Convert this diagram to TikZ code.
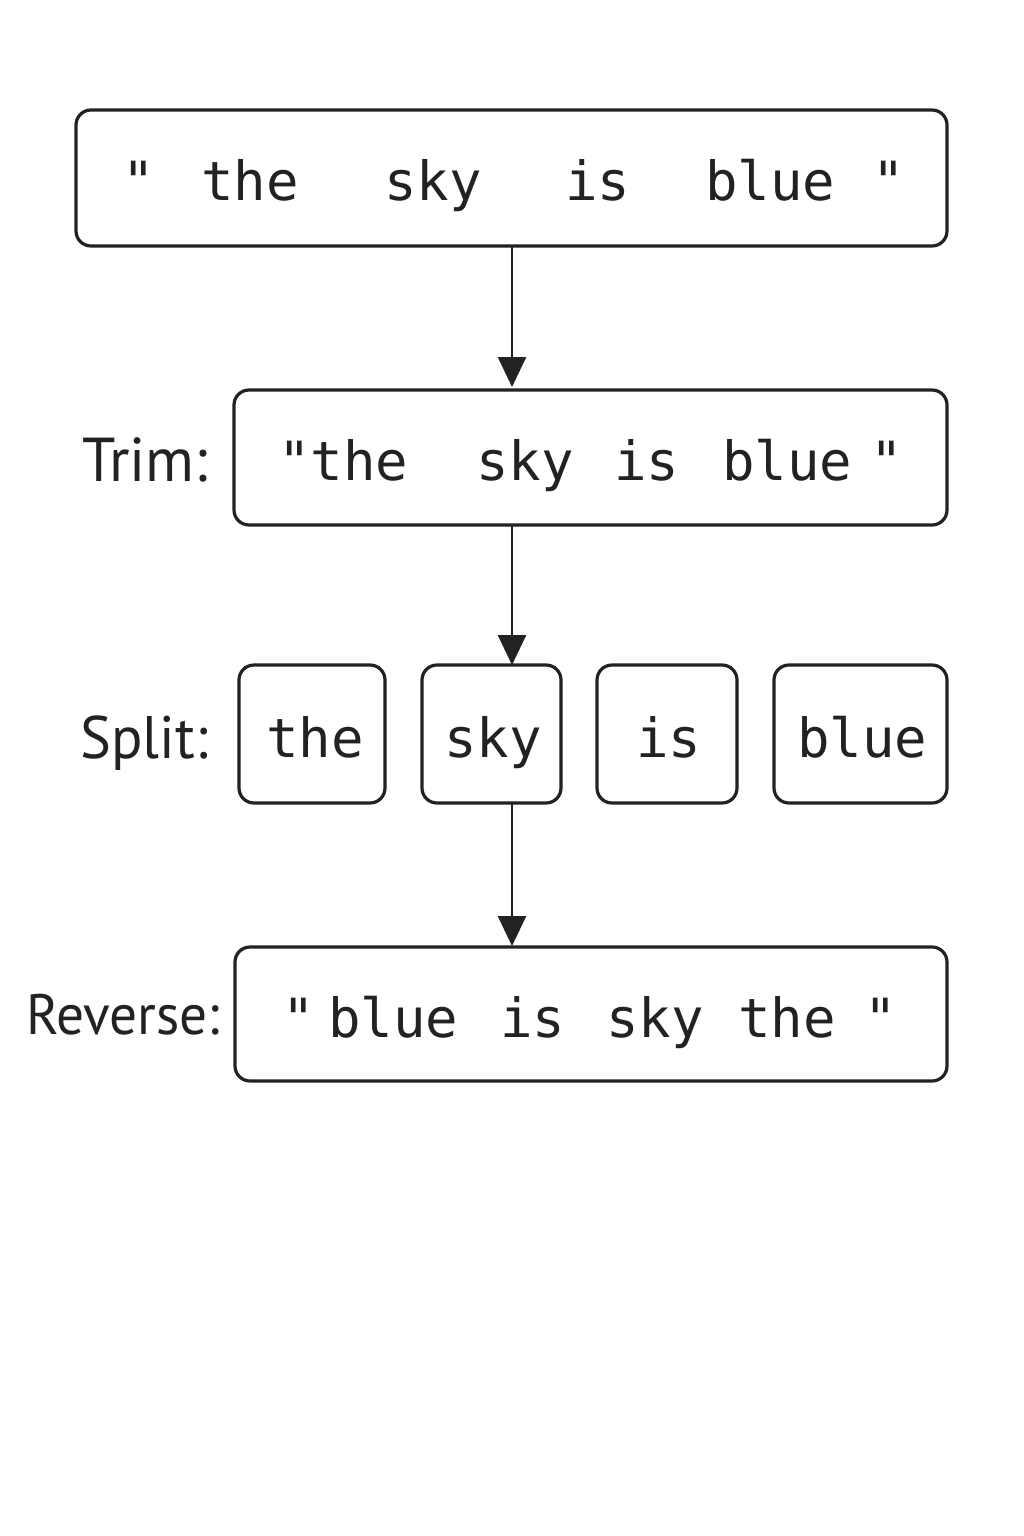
\documentclass[tikz,border=0pt]{standalone}
\usepackage{fontspec}
\setmainfont{PT Sans}
\newfontfamily\labfont[FakeStretch=0.97]{PT Sans}
\newfontfamily\monofont{DejaVu Sans Mono}
\usetikzlibrary{arrows.meta}
\definecolor{ink}{HTML}{222222}
\begin{document}
\begin{tikzpicture}[x=1pt,y=-1pt,
  box/.style={draw=ink,line width=3.2pt,rounded corners=15pt},
  tok/.style={anchor=base west,inner sep=0pt,text=ink,font=\monofont\fontsize{54}{58}\selectfont},
  lab/.style={anchor=base east,inner sep=0pt,text=ink,font=\labfont\fontsize{60}{64}\selectfont},
  arr/.style={draw=ink,line width=2.6pt,-{Triangle[width=28pt,length=30pt]}}]
\fill[white] (0,0) rectangle (1024,1536);
\useasboundingbox (0,0) rectangle (1024,1536);
% boxes
\node[box,minimum width=871pt,minimum height=136pt] (b1) at (511.5,178) {};
\node[box,minimum width=713pt,minimum height=135pt] (b2) at (590.5,457.5) {};
\node[box,minimum width=146pt,minimum height=138pt] (s1) at (312,734) {};
\node[box,minimum width=139pt,minimum height=138pt] (s2) at (491.5,734) {};
\node[box,minimum width=140pt,minimum height=138pt] (s3) at (667,734) {};
\node[box,minimum width=173pt,minimum height=138pt] (s4) at (860.5,734) {};
\node[box,minimum width=712pt,minimum height=134pt] (b4) at (591,1014) {};
% arrows
\coordinate (a1s) at (512,246); \coordinate (a1e) at (512,387);
\coordinate (a2s) at (512,525); \coordinate (a2e) at (512,665);
\coordinate (a3s) at (512,803); \coordinate (a3e) at (512,946);
\draw[arr] (a1s) -- (a1e);
\draw[arr] (a2s) -- (a2e);
\draw[arr] (a3s) -- (a3e);
% box 1 text
\node[tok] (t1a) at (122,200) {"};
\node[tok] (t1b) at (201,200) {the};
\node[tok] (t1c) at (384,200) {sky};
\node[tok] (t1d) at (565,200) {is};
\node[tok] (t1e) at (705,200) {blue};
\node[tok] (t1f) at (872,200) {"};
% box 2 text
\node[tok] (t2a) at (278,480) {"the};
\node[tok] (t2b) at (476,480) {sky};
\node[tok] (t2c) at (614,480) {is};
\node[tok] (t2d) at (722,480) {blue};
\node[tok] (t2e) at (870,480) {"};
% split text
\node[tok] (t3a) at (266,757) {the};
\node[tok] (t3b) at (444,757) {sky};
\node[tok] (t3c) at (636,757) {is};
\node[tok] (t3d) at (797,757) {blue};
% box 4 text
\node[tok] (t4a) at (282,1037) {"};
\node[tok] (t4b) at (328,1037) {blue};
\node[tok] (t4c) at (500,1037) {is};
\node[tok] (t4d) at (606,1037) {sky};
\node[tok] (t4e) at (738,1037) {the};
\node[tok] (t4f) at (864,1037) {"};
% labels
\node[lab,font=\labfont\fontsize{62}{66}\selectfont] (l1) at (208,481) {Trim:};
\node[lab] (l2) at (208,758) {Split:};
\node[lab,font=\labfont\fontsize{57}{60}\selectfont] (l3) at (220,1034) {Reverse:};
\end{tikzpicture}
\end{document}
